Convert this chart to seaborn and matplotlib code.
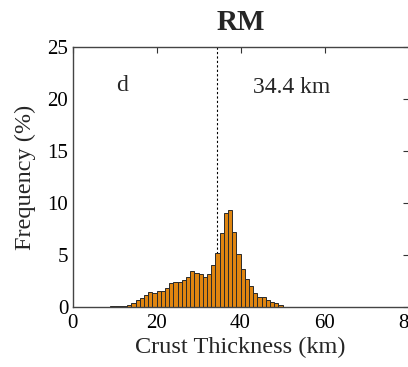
import numpy as np
import pandas as pd
import matplotlib
matplotlib.use("Agg")
import matplotlib.pyplot as plt
import seaborn as sns

# Crust thickness histogram (1 km bins), frequency in percent
bin_left = list(range(9, 50))
frequency = [0.05, 0.05, 0.05, 0.06, 0.15, 0.4, 0.65, 0.9, 1.15, 1.4,
             1.3, 1.5, 1.5, 1.8, 2.3, 2.4, 2.4, 2.6, 2.9, 3.5,
             3.3, 3.2, 2.9, 3.2, 4.0, 5.2, 7.1, 9.0, 9.3, 7.2,
             5.1, 3.7, 2.7, 2.0, 1.35, 1.0, 0.93, 0.7, 0.5, 0.35, 0.2]
mean_thickness = 34.4
x_ticks = [0, 20, 40, 60, 80]
y_ticks = [0, 5, 10, 15, 20, 25]

sns.set_theme(style="white")
plt.rcParams["font.family"] = ["Liberation Serif", "DejaVu Serif"]

df = pd.DataFrame({"thickness": [b + 0.5 for b in bin_left], "freq": frequency})
edges = bin_left + [bin_left[-1] + 1]

fig = plt.figure(figsize=(4.08, 3.67), dpi=100)
ax = fig.add_axes([72.5 / 408, 60 / 367, 336 / 408, 260 / 367])

ax.axvline(mean_thickness, color="black", lw=0.8, ls=(0, (2, 2)), zorder=1)
sns.histplot(data=df, x="thickness", weights="freq", bins=edges, ax=ax,
             color="#DF8510", alpha=1.0, edgecolor="#2a2a2a", linewidth=0.7,
             zorder=2)

ax.set_xlim(0, 80)
ax.set_ylim(0, 25)
ax.set_xticks(x_ticks)
ax.set_yticks(y_ticks)
ax.tick_params(axis="both", direction="in", length=4, width=0.8, top=True,
               right=True, labelsize=15, colors="#333333", labelcolor="black")
ax.tick_params(axis="x", pad=5)
ax.tick_params(axis="y", pad=3)
for s in ax.spines.values():
    s.set_color("#444444")
    s.set_linewidth(1.0)

ax.set_xlabel("Crust Thickness (km)", fontsize=17.5, labelpad=3)
ax.set_ylabel("Frequency (%)", fontsize=17.5, labelpad=8)
ax.set_title("RM", fontsize=21, fontweight="bold", pad=12)

ax.text(10.5, 21.3, "d", fontsize=17, ha="left", va="center")
ax.text(43.0, 21.1, f"{mean_thickness} km", fontsize=17, ha="left", va="center")

fig.savefig("out.png", dpi=100)
